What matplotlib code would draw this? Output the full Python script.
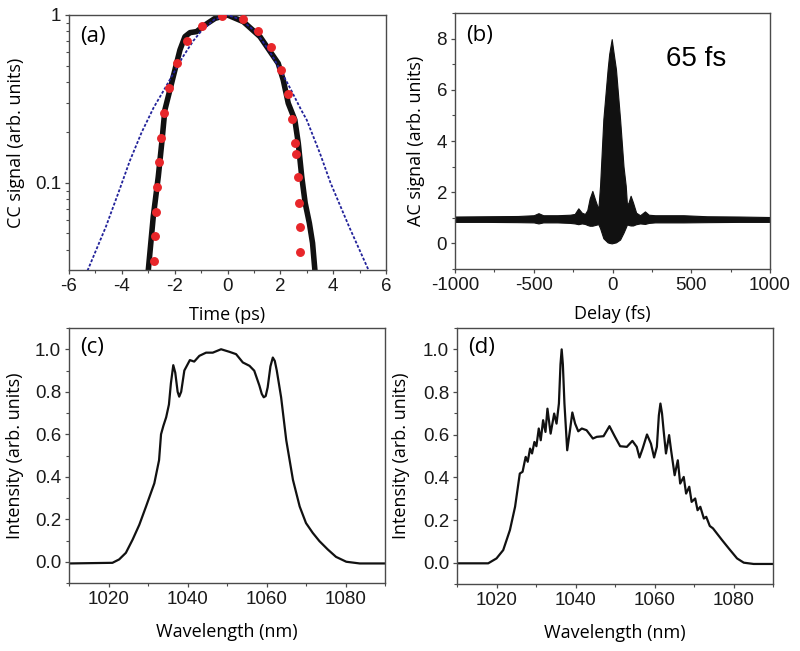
import matplotlib
matplotlib.use("Agg")
import matplotlib.pyplot as plt
from matplotlib.ticker import MultipleLocator, LogLocator, FixedLocator, NullFormatter, FixedFormatter, FormatStrFormatter

# (a) cross-correlation, log scale
cc_t = [-3.0, -2.81, -2.62, -2.49, -2.37, -2.18, -1.99, -1.80, -1.61, -1.42, -1.17, -0.85, -0.47, 0.0,
        0.6, 1.23, 1.92, 2.11, 2.30, 2.55, 2.68, 2.81, 2.94, 3.10, 3.22, 3.31]
cc_meas = [0.03, 0.063, 0.109, 0.172, 0.272, 0.358, 0.471, 0.619, 0.743, 0.785, 0.796, 0.872, 0.955, 1.0,
           0.912, 0.743, 0.515, 0.41, 0.298, 0.237, 0.172, 0.109, 0.076, 0.0575, 0.0438, 0.03]
sim_t = [-2.77, -2.74, -2.72, -2.67, -2.59, -2.51, -2.39, -2.20, -1.92, -1.52, -0.98, -0.2,
         0.57, 1.17, 1.63, 2.02, 2.28, 2.45, 2.57, 2.59, 2.66, 2.71, 2.73, 2.75]
sim_v = [0.0345, 0.048, 0.0675, 0.095, 0.134, 0.186, 0.262, 0.367, 0.515, 0.70, 0.86, 0.985,
         0.945, 0.80, 0.642, 0.471, 0.337, 0.24, 0.172, 0.149, 0.108, 0.076, 0.0545, 0.039]
fit_t = [-5.3, -4.6, -4.1, -3.7, -3.25, -2.8, -2.35, -1.7, -1.3, -1.0, -0.5, 0.0,
         0.5, 1.0, 1.3, 1.7, 2.3, 2.8, 3.0, 3.5, 3.9, 4.6, 5.35]
fit_v = [0.030, 0.055, 0.09, 0.135, 0.20, 0.28, 0.37, 0.56, 0.70, 0.80, 0.94, 1.0,
         0.94, 0.81, 0.71, 0.57, 0.385, 0.27, 0.237, 0.15, 0.10, 0.055, 0.030]

# (b) interferometric autocorrelation, upper and lower envelopes
ac_delay = [-1000, -800, -600, -500, -470, -440, -350, -270, -240, -217, -195, -175, -160,
            -145, -128, -110, -90, -79, -58, -31, -21, -5, 8, 22, 48, 70, 84, 92,
            102, 115, 130, 150, 175, 206, 230, 270, 350, 450, 600, 800, 1000]
ac_upper = [1.05, 1.06, 1.07, 1.1, 1.18, 1.1, 1.1, 1.12, 1.15, 1.37, 1.2, 1.15, 1.3,
            1.75, 2.05, 1.7, 1.34, 2.25, 4.86, 6.8, 7.4, 7.98, 7.4, 6.8, 4.86, 3.0, 2.25, 1.5,
            1.6, 1.86, 1.6, 1.2, 1.1, 1.25, 1.12, 1.1, 1.1, 1.1, 1.06, 1.05, 1.03]
ac_lower = [0.84, 0.84, 0.83, 0.82, 0.78, 0.82, 0.82, 0.8, 0.78, 0.75, 0.78, 0.76, 0.72,
            0.69, 0.69, 0.72, 0.75, 0.6, 0.2, 0.04, 0.02, 0.0, 0.02, 0.04, 0.15, 0.42, 0.62, 0.74,
            0.72, 0.7, 0.7, 0.75, 0.78, 0.76, 0.8, 0.82, 0.82, 0.82, 0.83, 0.84, 0.84]

# (c) spectrum
wl_c = [1010.0, 1021.0, 1022.7, 1024.4, 1026.1, 1027.8, 1029.5, 1031.6, 1032.8, 1033.3, 1033.9, 1034.6,
        1035.3, 1035.8, 1036.4, 1036.9, 1037.5, 1037.9, 1038.4, 1039.2, 1040.6, 1041.7, 1043.0, 1044.7,
        1046.4, 1048.5, 1050.6, 1052.3, 1054.0, 1055.7, 1056.9, 1058.2, 1058.8, 1059.3, 1059.8, 1060.3,
        1061.0, 1061.6, 1062.1, 1062.6, 1063.7, 1065.0, 1066.7, 1068.4, 1070.0, 1071.7, 1073.4, 1075.5,
        1077.6, 1080.2, 1083.6, 1090.0]
int_c = [-0.008, -0.005, 0.011, 0.042, 0.104, 0.174, 0.26, 0.369, 0.478, 0.60, 0.64, 0.68,
         0.74, 0.84, 0.925, 0.89, 0.80, 0.777, 0.80, 0.90, 0.949, 0.942, 0.969, 0.984,
         0.984, 1.0, 0.988, 0.977, 0.938, 0.922, 0.899, 0.829, 0.79, 0.774, 0.78, 0.821,
         0.92, 0.961, 0.945, 0.90, 0.774, 0.572, 0.385, 0.26, 0.182, 0.136, 0.097, 0.058,
         0.023, 0.0, -0.008, -0.008]

# (d) spectrum
wl_d = [1010, 1017.9, 1020, 1021.7, 1023.4, 1024.7, 1025.9, 1026.6, 1027.2, 1027.4, 1027.9, 1028.5,
        1029.0, 1029.6, 1030.1, 1030.7, 1031.2, 1031.8, 1032.4, 1032.9, 1033.7, 1034.6, 1035.2, 1035.8,
        1036.2, 1036.5, 1036.8, 1037.2, 1037.9, 1038.6, 1039.2, 1039.9, 1040.7, 1041.6, 1042.8, 1044.4,
        1045.4, 1047.1, 1048.6, 1050.0, 1051.3, 1053.0, 1054.4, 1055.5, 1056.2, 1057.0, 1058.1, 1059.1,
        1059.9, 1060.6, 1061.1, 1061.5, 1061.9, 1062.3, 1062.9, 1063.7, 1064.2, 1065.1, 1065.9, 1066.5,
        1067.4, 1068.0, 1068.8, 1069.4, 1070.3, 1070.9, 1071.6, 1072.5, 1073.1, 1074.0, 1074.8, 1075.8,
        1077.1, 1078.8, 1080.9, 1082.6, 1085.1, 1090]
int_d = [-0.003, -0.003, 0.02, 0.059, 0.153, 0.262, 0.418, 0.426, 0.48, 0.496, 0.473, 0.535,
         0.512, 0.566, 0.546, 0.629, 0.574, 0.668, 0.613, 0.722, 0.605, 0.699, 0.652, 0.746,
         0.93, 1.0, 0.93, 0.746, 0.527, 0.621, 0.704, 0.652, 0.616, 0.629, 0.621, 0.582,
         0.59, 0.593, 0.64, 0.59, 0.546, 0.543, 0.571, 0.543, 0.493, 0.535, 0.601, 0.558,
         0.493, 0.543, 0.69, 0.746, 0.70, 0.621, 0.512, 0.598, 0.527, 0.41, 0.48, 0.371,
         0.402, 0.324, 0.356, 0.285, 0.301, 0.246, 0.262, 0.207, 0.215, 0.172, 0.161, 0.137,
         0.106, 0.067, 0.02, 0.0, -0.006, -0.006]

tick_font = "Liberation Sans"
label_font = "Open Sans"
spine_col = "#4a4a4a"

plt.rcParams["font.family"] = [tick_font, "DejaVu Sans"]
plt.rcParams["axes.unicode_minus"] = False

fig = plt.figure(figsize=(8.0, 6.51), dpi=100)
ax_a = fig.add_axes((0.08625, 0.5853, 0.39625, 0.3917))
ax_b = fig.add_axes((0.56875, 0.5868, 0.39375, 0.3932))
ax_c = fig.add_axes((0.08625, 0.10445, 0.395, 0.3917))
ax_d = fig.add_axes((0.57125, 0.1029, 0.395, 0.3932))


def style(ax):
	for s in ax.spines.values():
		s.set_color(spine_col)
		s.set_linewidth(1.0)
	ax.tick_params(which="both", direction="out", color=spine_col, labelcolor="#1a1a1a", top=False, right=False)
	ax.tick_params(which="major", length=3.2, width=0.9, pad=2.5, labelsize=13.5)
	ax.tick_params(which="minor", length=2.2, width=0.8)


# (a)
ax_a.plot(cc_t, cc_meas, color="#111111", lw=4.0, solid_joinstyle="round", zorder=2)
ax_a.plot(fit_t, fit_v, color="#22229a", lw=1.3, linestyle=(0, (1.6, 1.0)), zorder=3)
ax_a.plot(sim_t, sim_v, linestyle="none", marker="o", ms=5.4, mfc="#e8262a", mec="#e8262a", zorder=4)
ax_a.set_yscale("log")
ax_a.set_xlim(-6, 6)
ax_a.set_ylim(0.0303, 1.0)
ax_a.xaxis.set_major_locator(MultipleLocator(2))
ax_a.xaxis.set_minor_locator(MultipleLocator(1))
ax_a.yaxis.set_major_locator(FixedLocator([0.1, 1.0]))
ax_a.yaxis.set_major_formatter(FixedFormatter(["0.1", "1"]))
ax_a.yaxis.set_minor_locator(LogLocator(base=10, subs=range(2, 10)))
ax_a.yaxis.set_minor_formatter(NullFormatter())
style(ax_a)
ax_a.set_xlabel("Time (ps)", fontfamily=label_font, fontsize=13)
ax_a.set_ylabel("CC signal (arb. units)", fontfamily=label_font, fontsize=13)
ax_a.xaxis.set_label_coords(0.5, -0.14)
ax_a.yaxis.set_label_coords(-0.139, 0.5)
ax_a.text(0.035, 0.955, "(a)", transform=ax_a.transAxes, fontfamily=label_font, fontsize=16, va="top", ha="left")

# (b)
ax_b.fill_between(ac_delay, ac_lower, ac_upper, color="#111111", lw=0.8, edgecolor="#111111")
ax_b.set_xlim(-1000, 1000)
ax_b.set_ylim(-1, 9)
ax_b.xaxis.set_major_locator(MultipleLocator(500))
ax_b.xaxis.set_minor_locator(MultipleLocator(250))
ax_b.yaxis.set_major_locator(MultipleLocator(2))
ax_b.yaxis.set_minor_locator(MultipleLocator(1))
style(ax_b)
ax_b.set_xlabel("Delay (fs)", fontfamily=label_font, fontsize=13)
ax_b.set_ylabel("AC signal (arb. units)", fontfamily=label_font, fontsize=13)
ax_b.xaxis.set_label_coords(0.5, -0.14)
ax_b.yaxis.set_label_coords(-0.096, 0.5)
ax_b.text(0.035, 0.955, "(b)", transform=ax_b.transAxes, fontfamily=label_font, fontsize=16, va="top", ha="left")
ax_b.text(0.67, 0.82, "65 fs", transform=ax_b.transAxes, fontfamily=tick_font, fontsize=20, va="center", ha="left")

# (c) and (d)
for ax, wl, inten, lab in [(ax_c, wl_c, int_c, "(c)"), (ax_d, wl_d, int_d, "(d)")]:
	ax.plot(wl, inten, color="#111111", lw=1.6, solid_joinstyle="round")
	ax.set_xlim(1010, 1090)
	ax.set_ylim(-0.1, 1.1)
	ax.xaxis.set_major_locator(MultipleLocator(20))
	ax.xaxis.set_minor_locator(MultipleLocator(10))
	ax.yaxis.set_major_locator(MultipleLocator(0.2))
	ax.yaxis.set_minor_locator(MultipleLocator(0.1))
	ax.yaxis.set_major_formatter(FormatStrFormatter("%.1f"))
	style(ax)
	ax.set_xlabel("Wavelength (nm)", fontfamily=label_font, fontsize=13)
	ax.set_ylabel("Intensity (arb. units)", fontfamily=label_font, fontsize=13)
	ax.xaxis.set_label_coords(0.5, -0.155)
	ax.text(0.035, 0.965, lab, transform=ax.transAxes, fontfamily=label_font, fontsize=16, va="top", ha="left")
ax_c.yaxis.set_label_coords(-0.143, 0.5)
ax_d.yaxis.set_label_coords(-0.148, 0.5)

fig.savefig("out.png", dpi=100)
